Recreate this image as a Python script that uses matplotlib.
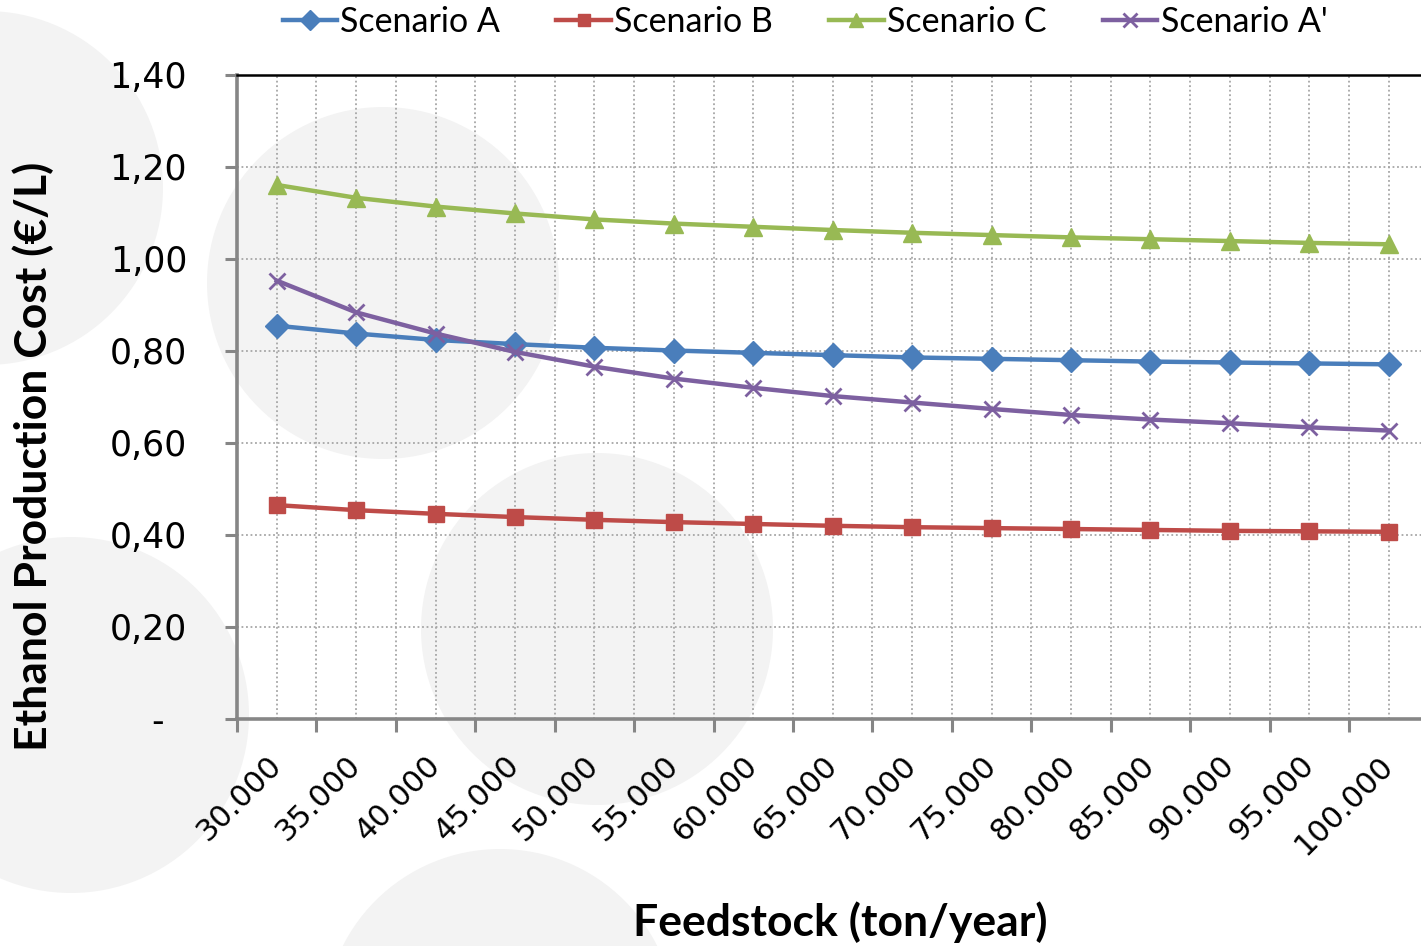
import matplotlib
matplotlib.use("Agg")
import matplotlib.pyplot as plt
from matplotlib.patches import Circle
import numpy as np

categories = ["30.000", "35.000", "40.000", "45.000", "50.000", "55.000", "60.000",
              "65.000", "70.000", "75.000", "80.000", "85.000", "90.000", "95.000", "100.000"]

scenario_a = [0.855, 0.838, 0.824, 0.815, 0.807, 0.801, 0.796, 0.791, 0.786, 0.783,
              0.780, 0.777, 0.775, 0.773, 0.771]
scenario_b = [0.465, 0.454, 0.446, 0.439, 0.433, 0.428, 0.424, 0.420, 0.417, 0.415,
              0.413, 0.411, 0.409, 0.408, 0.407]
scenario_c = [1.161, 1.133, 1.114, 1.099, 1.086, 1.077, 1.070, 1.063, 1.057, 1.052,
              1.047, 1.043, 1.039, 1.035, 1.032]
scenario_a2 = [0.953, 0.884, 0.838, 0.798, 0.766, 0.740, 0.720, 0.702, 0.688, 0.674,
               0.661, 0.651, 0.643, 0.634, 0.627]

y_ticks = [0.0, 0.2, 0.4, 0.6, 0.8, 1.0, 1.2, 1.4]
y_tick_labels = ["-  ", "0,20", "0,40", "0,60", "0,80", "1,00", "1,20", "1,40"]

W, H = 1421, 946
fig = plt.figure(figsize=(W / 100, H / 100), dpi=100)

# decorative background discs, laid out in figure pixels
bg = fig.add_axes([0, 0, 1, 1], zorder=-1)
bg.set_xlim(0, W)
bg.set_ylim(H, 0)
bg.axis("off")
discs = [(-14, 188, 177), (383, 283, 176), (71, 715, 178), (597, 629, 176), (500, 1025, 176)]
for cx, cy, r in discs:
    bg.add_patch(Circle((cx, cy), r, facecolor="#f3f3f3", edgecolor="none"))

ax = fig.add_axes([237 / W, 1 - 719 / H, (W - 237) / W, (719 - 75) / H])
ax.patch.set_alpha(0)

x = np.arange(len(categories)) + 0.5
series = [
    ("Scenario A", scenario_a, "#4a7ebb", "D", 12.5),
    ("Scenario B", scenario_b, "#be4b48", "s", 11),
    ("Scenario C", scenario_c, "#98b954", "^", 13),
    ("Scenario A'", scenario_a2, "#7d60a0", "x", 12),
]
handles = []
for name, vals, col, mk, ms in series:
    h, = ax.plot(x, vals, color=col, lw=3.2, marker=mk, ms=ms, mew=2 if mk == "x" else 1,
                 mec=col, mfc=col, label=name, zorder=3, clip_on=False)
    handles.append(h)

ax.set_xlim(0, (W - 237) / 79.43)
ax.set_ylim(0, 1.4)

# grid: dotted, at category centres and boundaries
for gx in np.arange(0.5, len(categories), 0.5):
    ax.axvline(gx, color="#a6a6a6", lw=1.3, ls=(0, (1, 1.5)), zorder=1)
for gy in y_ticks[1:-1]:
    ax.axhline(gy, color="#a6a6a6", lw=1.3, ls=(0, (1, 1.5)), zorder=1)

ax.set_yticks(y_ticks)
ax.set_yticklabels(y_tick_labels, family="DejaVu Sans", fontsize=25)
ax.tick_params(axis="y", length=9, width=2.2, color="#868686", pad=27)

ax.set_xticks(np.arange(0, len(categories)))
ax.set_xticklabels([])
ax.set_xticks(x, minor=True)
ax.set_xticklabels(categories, minor=True, rotation=45, ha="right", va="center",
                   rotation_mode="anchor", family="DejaVu Sans", fontsize=22)
ax.tick_params(axis="x", which="major", length=9, width=2.2, color="#868686")
ax.tick_params(axis="x", which="minor", length=0, pad=30)

for s in ("left", "bottom"):
    ax.spines[s].set_color("#868686")
    ax.spines[s].set_linewidth(2.6)
ax.spines["top"].set_color("black")
ax.spines["top"].set_linewidth(1.8)
ax.spines["right"].set_visible(False)

fig.text(33 / W, 1 - 456 / H, "Ethanol Production Cost (€/L)", rotation=90,
         ha="center", va="center", family="Lato", fontweight="bold", fontsize=32)
fig.text(840 / W, 1 - 922 / H, "Feedstock (ton/year)", ha="center", va="center",
         family="Lato", fontweight="bold", fontsize=32)

fig.legend(handles=handles, loc="center", bbox_to_anchor=(805 / W, 1 - 22 / H),
           ncol=4, frameon=False, prop={"family": "Lato", "size": 24.5},
           handlelength=1.6, handletextpad=0.1, columnspacing=1.65, markerscale=0.8)

fig.savefig("out.png", dpi=100)
